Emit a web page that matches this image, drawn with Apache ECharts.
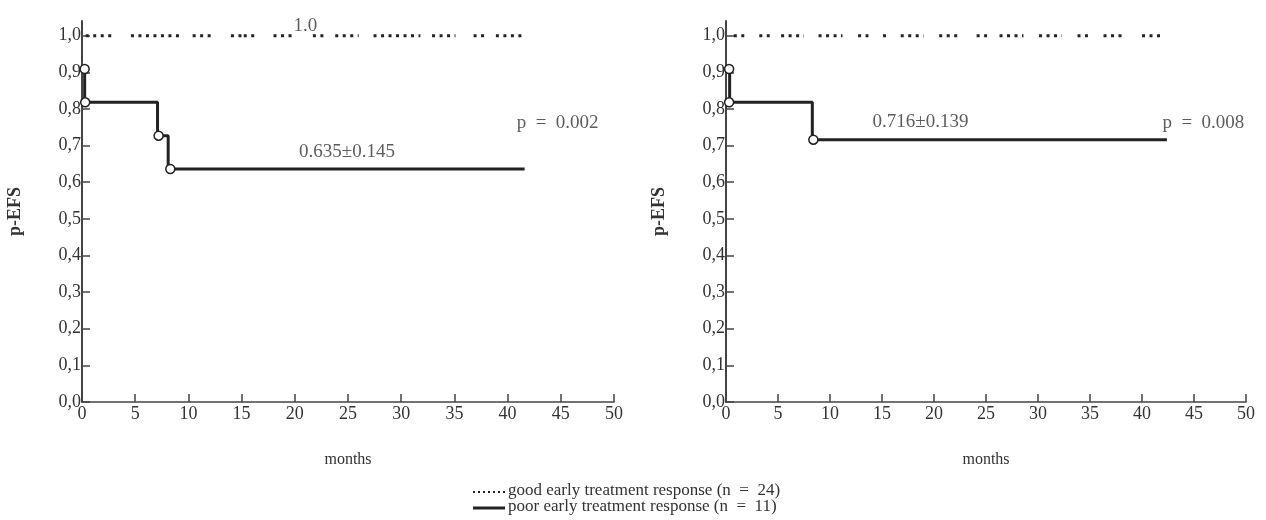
<!DOCTYPE html>
<html>
<head>
<meta charset="utf-8">
<title>p-EFS</title>
<script src="https://cdn.jsdelivr.net/npm/echarts@6/dist/echarts.min.js"></script>
<style>
	html, body { margin: 0; padding: 0; background: #fff; }
	#chart { width: 1266px; height: 520px; }
</style>
</head>
<body>
<div id="chart"></div>
<script>
// y tick labels, x tick labels
var yTicks = [0, 0.1, 0.2, 0.3, 0.4, 0.5, 0.6, 0.7, 0.8, 0.9, 1.0];
var xTicks = [0, 5, 10, 15, 20, 25, 30, 35, 40, 45, 50];

// good response (dotted at 1.0): runs of dots [from, to] in months
var goodLeft = [[0.35, 2.9], [4.6, 9.3], [10.4, 12.4], [14.0, 15.0], [15.2, 16.5], [18.0, 19.9],
	[21.7, 22.7], [23.8, 26.0], [27.4, 31.8], [32.9, 35.1], [36.8, 37.8], [38.9, 41.4]];
var goodRight = [[0.75, 1.8], [3.2, 4.2], [5.3, 7.5], [8.9, 11.2], [12.7, 13.7], [15.1, 15.8],
	[16.8, 19.0], [20.5, 22.6], [24.1, 25.1], [26.3, 28.6], [30.1, 32.3], [33.8, 34.8],
	[36.3, 38.3], [40.0, 42.1]];

// poor response: event times and survival levels (first level before first drop)
var poorLeftTimes = [0.25, 7.1, 8.1];
var poorLeftLevels = [0.909, 0.818, 0.727, 0.636];
var poorLeftEnd = 41.6;
var poorLeftCircles = [[0.25, 0.909], [0.3, 0.818], [7.2, 0.727], [8.3, 0.636]];

var poorRightTimes = [0.35, 8.3];
var poorRightLevels = [0.909, 0.818, 0.716];
var poorRightEnd = 42.4;
var poorRightCircles = [[0.3, 0.909], [0.3, 0.818], [8.4, 0.716]];

// text notes [x, y, text]
var notesLeft = [[21, 1.025, '1.0'], [24.9, 0.683, '0.635\u00b10.145'], [44.7, 0.762, 'p\u2002=\u20020.002']];
var notesRight = [[22, 1.05, '1.0'], [18.7, 0.765, '0.716\u00b10.139'], [45.9, 0.762, 'p\u2002=\u20020.008']];

var FONT = '"Liberation Serif", "DejaVu Serif", serif';
var INK = '#222';

function stepLine(times, levels, end) {
	var d = [[times[0], levels[0]]];
	for (var i = 0; i < times.length; i++) {
		d.push([times[i], levels[i]]);
		d.push([times[i], levels[i + 1]]);
	}
	d.push([end, levels[levels.length - 1]]);
	return d;
}

function axisPair(idx) {
	var x = {
		type: 'value', gridIndex: idx, min: 0, max: 50, interval: 5,
		name: 'months', nameLocation: 'middle', nameGap: 50,
		nameTextStyle: { fontFamily: FONT, fontSize: 16, color: '#333' },
		axisLine: { lineStyle: { color: '#444', width: 1.5 } },
		axisTick: { inside: true, length: 8, lineStyle: { color: '#444', width: 1.5 } },
		axisLabel: { fontFamily: FONT, fontSize: 18, color: '#333', margin: 3 },
		splitLine: { show: false }
	};
	var y = {
		type: 'value', gridIndex: idx, min: 0, max: 1.04,
		name: 'p-EFS', nameLocation: 'middle', nameGap: 58,
		nameTextStyle: { fontFamily: FONT, fontSize: 18, fontWeight: 'bold', color: '#333' },
		axisLine: { show: true, lineStyle: { color: '#444', width: 2 } },
		axisTick: { inside: true, length: 8, customValues: yTicks, lineStyle: { color: '#444', width: 1.5 } },
		axisLabel: {
			fontFamily: FONT, fontSize: 18, color: '#333', margin: 1,
			customValues: yTicks,
			formatter: function (v) { return v.toFixed(1).replace('.', ','); }
		},
		splitLine: { show: false }
	};
	return [x, y];
}

function panelSeries(idx, good, times, levels, end, circles, notes) {
	// each run of dots is its own line so the dash pattern starts fresh
	var dots = good.map(function (r) {
		return {
			type: 'line', xAxisIndex: idx, yAxisIndex: idx, data: [[r[0], 1.0], [r[1], 1.0]],
			symbol: 'none', silent: true,
			lineStyle: { color: INK, width: 3, type: [3, 4.5], cap: 'butt' }
		};
	});
	return dots.concat([
		{
			type: 'line', xAxisIndex: idx, yAxisIndex: idx, data: stepLine(times, levels, end),
			symbol: 'none', silent: true,
			lineStyle: { color: INK, width: 3 }
		},
		{
			type: 'scatter', xAxisIndex: idx, yAxisIndex: idx, data: circles,
			symbol: 'circle', symbolSize: 9, silent: true, z: 5,
			itemStyle: { color: '#fff', opacity: 1, borderColor: INK, borderWidth: 1.5 }
		},
		{
			type: 'scatter', xAxisIndex: idx, yAxisIndex: idx, silent: true, z: 6,
			symbolSize: 1, itemStyle: { color: 'rgba(0,0,0,0)' },
			data: notes.map(function (n) { return { value: [n[0], n[1]], name: n[2] }; }),
			label: {
				show: true, position: 'inside', formatter: '{b}',
				fontFamily: FONT, fontSize: 19, color: '#333'
			}
		}
	]);
}

var chart = echarts.init(document.getElementById('chart'));
var a0 = axisPair(0), a1 = axisPair(1);

var option = {
	backgroundColor: '#fff',
	animation: false,
	grid: [
		{ left: 82, right: 652, top: 21, bottom: 118 },
		{ left: 726, right: 20, top: 21, bottom: 118 }
	],
	xAxis: [a0[0], a1[0]],
	yAxis: [a0[1], a1[1]],
	series: panelSeries(0, goodLeft, poorLeftTimes, poorLeftLevels, poorLeftEnd, poorLeftCircles, notesLeft)
		.concat(panelSeries(1, goodRight, poorRightTimes, poorRightLevels, poorRightEnd, poorRightCircles, notesRight)),
	graphic: [
		{
			type: 'line', shape: { x1: 473, y1: 492, x2: 505, y2: 492 },
			style: { stroke: INK, lineWidth: 2, lineDash: [2, 3] }
		},
		{
			type: 'text', x: 508, y: 491,
			style: { text: 'good early treatment response (n\u2002=\u200224)', font: '17px ' + FONT, fill: '#333', verticalAlign: 'middle' }
		},
		{
			type: 'line', shape: { x1: 473, y1: 508, x2: 505, y2: 508 },
			style: { stroke: INK, lineWidth: 3 }
		},
		{
			type: 'text', x: 508, y: 507,
			style: { text: 'poor early treatment response (n\u2002=\u200211)', font: '17px ' + FONT, fill: '#333', verticalAlign: 'middle' }
		}
	]
};

chart.setOption(option);
window.addEventListener('resize', function () {
	chart.resize();
});
</script>
</body>
</html>
